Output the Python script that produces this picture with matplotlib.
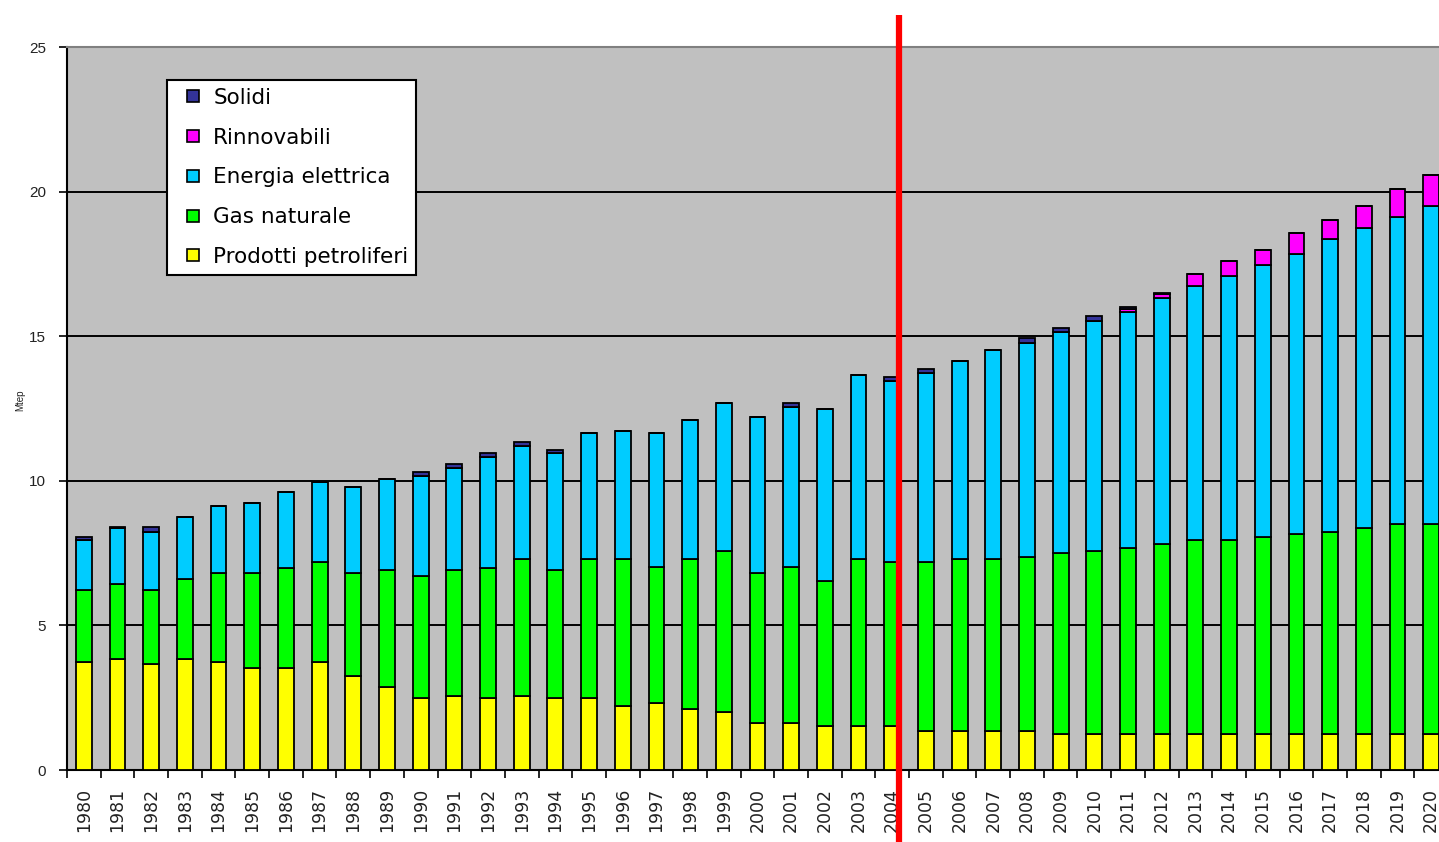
import numpy as np
import matplotlib
matplotlib.use('Agg')
import matplotlib.pyplot as plt
import matplotlib.transforms as mtransforms
from matplotlib.lines import Line2D

# ── Data (Mtep) ─────────────────────────────────────────────
years = list(range(1980, 2021))

prodotti = [3.74, 3.83, 3.65, 3.83, 3.74, 3.54, 3.54, 3.74, 3.26, 2.88,
            2.50, 2.57, 2.50, 2.57, 2.50, 2.50, 2.21, 2.31, 2.11, 2.02,
            1.64, 1.64, 1.53, 1.53, 1.53, 1.35, 1.35, 1.35, 1.35, 1.24,
            1.24, 1.24, 1.24, 1.24, 1.24, 1.24, 1.24, 1.24, 1.24, 1.24,
            1.24]
gas = [2.48, 2.59, 2.57, 2.79, 3.08, 3.28, 3.46, 3.46, 3.54, 4.04,
       4.22, 4.35, 4.50, 4.71, 4.42, 4.80, 5.09, 4.70, 5.19, 5.55,
       5.18, 5.37, 5.01, 5.77, 5.67, 5.85, 5.93, 5.95, 6.03, 6.26,
       6.34, 6.44, 6.56, 6.71, 6.71, 6.82, 6.91, 7.00, 7.12, 7.28,
       7.28]
elettrica = [1.73, 1.94, 2.02, 2.12, 2.31, 2.40, 2.60, 2.77, 3.00, 3.14,
             3.46, 3.53, 3.83, 3.93, 4.03, 4.34, 4.43, 4.63, 4.80, 5.13,
             5.40, 5.55, 5.96, 6.36, 6.24, 6.52, 6.85, 7.21, 7.39, 7.66,
             7.96, 8.17, 8.51, 8.77, 9.14, 9.40, 9.69, 10.11, 10.37, 10.59,
             10.98]
rinnovabili = [0] * 31 + [0.10, 0.15, 0.42, 0.52, 0.52, 0.72, 0.67, 0.78, 0.97, 1.07]
solidi = [0.12, 0.03, 0.15, 0, 0, 0, 0, 0, 0, 0,
          0.11, 0.13, 0.14, 0.14, 0.12, 0, 0, 0, 0, 0,
          0, 0.14, 0, 0, 0.14, 0.14, 0, 0, 0.17, 0.13,
          0.15, 0.07, 0.05, 0, 0, 0, 0, 0, 0, 0,
          0]

series = [
    ('Prodotti petroliferi', prodotti, '#FFFF00'),
    ('Gas naturale', gas, '#00FF00'),
    ('Energia elettrica', elettrica, '#00CCFF'),
    ('Rinnovabili', rinnovabili, '#FF00FF'),
    ('Solidi', solidi, '#333399'),
]

plt.rcParams.update({
    'font.family': ['Liberation Sans', 'DejaVu Sans'],
    'axes.facecolor': '#C0C0C0',
    'figure.facecolor': 'white',
})

fig = plt.figure(figsize=(14.39, 8.42), dpi=100)
# axis runs past the right edge of the page, 2020 bar is cut off
ax = fig.add_axes([67 / 1439, 72 / 842, 1381 / 1439, 723 / 842])

x = np.arange(len(years))
bottom = np.zeros(len(years))
for name, vals, color in series:
    vals = np.array(vals, dtype=float)
    ax.bar(x, vals, width=0.47, bottom=bottom, color=color,
           edgecolor='black', linewidth=1.3, zorder=3)
    bottom += vals

ax.set_xlim(-0.5, len(years) - 0.5)
ax.set_ylim(0, 25)
ax.set_yticks([0, 5, 10, 15, 20, 25])
ax.yaxis.grid(True, color='black', linewidth=1.4, zorder=1)
ax.set_axisbelow(True)

# category ticks at bar boundaries, labels centred under bars
ax.set_xticks(np.arange(len(years) + 1) - 0.5)
ax.set_xticklabels([])
ax.set_xticks(x, minor=True)
ax.set_xticklabels([str(y) for y in years], minor=True, rotation=90,
                   fontsize=12.5, family='DejaVu Sans', color='#222222')
ax.tick_params(axis='x', which='minor', length=0, pad=13)
ax.tick_params(axis='x', which='major', length=6, width=1.2, color='black')
ax.tick_params(axis='y', length=6, width=1.2, labelsize=11,
               labelcolor='#222222', pad=9)

ax.spines['right'].set_visible(False)
ax.spines['top'].set_color('#808080')
ax.spines['top'].set_linewidth(1.5)
ax.spines['left'].set_linewidth(1.5)
ax.spines['bottom'].set_linewidth(1.5)

fig.text(20 / 1439, 1 - 400 / 842, 'Mtep', rotation=90, fontsize=7,
         ha='center', va='center', color='#222222')

# 2004 cut-off line
trans = mtransforms.blended_transform_factory(ax.transData, ax.transAxes)
ax.plot([24.2, 24.2], [-0.1, 1.044], color='#FF0000', linewidth=4.5,
        transform=trans, clip_on=False, zorder=10, solid_capstyle='butt')

handles = [Line2D([], [], linestyle='none', marker='s', markersize=9,
                  markerfacecolor=c, markeredgecolor='black',
                  markeredgewidth=1.2, label=n)
           for n, v, c in reversed(series)]
leg = ax.legend(handles=handles, loc='upper left',
                bbox_to_anchor=(0.0724, 0.954),
                prop={'family': 'DejaVu Sans', 'size': 15.5},
                frameon=True, fancybox=False, handlelength=1.7,
                handletextpad=0.1, labelspacing=0.92,
                borderpad=0.35, borderaxespad=0)
leg.get_frame().set_edgecolor('black')
leg.get_frame().set_linewidth(1.5)
leg.get_frame().set_facecolor('white')
leg.get_frame().set_alpha(1)
leg.set_zorder(20)

fig.savefig('out.png', dpi=100)
